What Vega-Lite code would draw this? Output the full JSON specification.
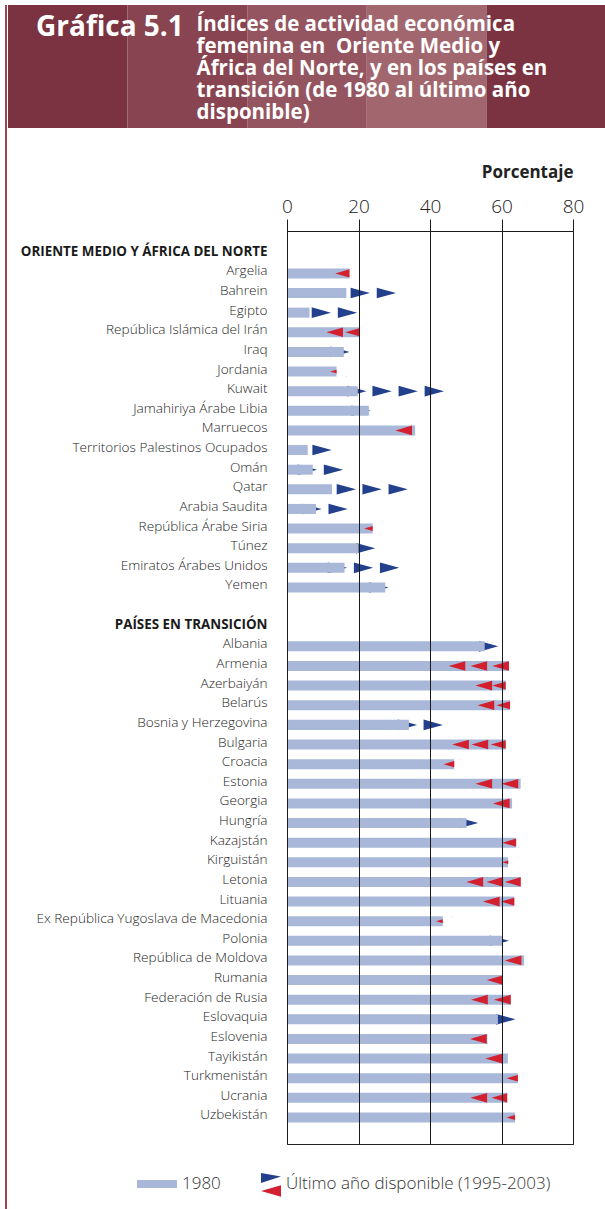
{
  "$schema": "https://vega.github.io/schema/vega-lite/v6.json",
  "padding": {"left": 5, "top": 5, "right": 0, "bottom": 0},
  "background": "white",
  "config": {"font": "Open Sans", "view": {"stroke": null}},
  "datasets": {
    "countries": [
      {"c": "Argelia", "v1980": 17.5, "latest": 13.5, "dir": "down"},
      {"c": "Bahrein", "v1980": 16.6, "latest": 30.5, "dir": "up"},
      {"c": "Egipto", "v1980": 6.3, "latest": 19.6, "dir": "up"},
      {"c": "República Islámica del Irán", "v1980": 20.3, "latest": 11.0, "dir": "down"},
      {"c": "Iraq", "v1980": 15.9, "latest": 17.5, "dir": "up"},
      {"c": "Jordania", "v1980": 13.9, "latest": 12.1, "dir": "down"},
      {"c": "Kuwait", "v1980": 19.8, "latest": 43.9, "dir": "up"},
      {"c": "Jamahiriya Árabe Libia", "v1980": 22.9, "latest": 23.4, "dir": "up"},
      {"c": "Marruecos", "v1980": 35.9, "latest": 30.3, "dir": "down"},
      {"c": "Territorios Palestinos Ocupados", "v1980": 5.8, "latest": 12.5, "dir": "up"},
      {"c": "Omán", "v1980": 7.2, "latest": 15.7, "dir": "up"},
      {"c": "Qatar", "v1980": 12.6, "latest": 33.8, "dir": "up"},
      {"c": "Arabia Saudita", "v1980": 8.1, "latest": 17.0, "dir": "up"},
      {"c": "República Árabe Siria", "v1980": 24.0, "latest": 21.6, "dir": "down"},
      {"c": "Túnez", "v1980": 20.0, "latest": 24.7, "dir": "up"},
      {"c": "Emiratos Árabes Unidos", "v1980": 16.1, "latest": 31.4, "dir": "up"},
      {"c": "Yemen", "v1980": 27.5, "latest": 28.4, "dir": "up"},
      {"c": "Albania", "v1980": 55.3, "latest": 59.1, "dir": "up"},
      {"c": "Armenia", "v1980": 62.1, "latest": 45.2, "dir": "down"},
      {"c": "Azerbaiyán", "v1980": 61.2, "latest": 52.7, "dir": "down"},
      {"c": "Belarús", "v1980": 62.4, "latest": 53.3, "dir": "down"},
      {"c": "Bosnia y Herzegovina", "v1980": 34.1, "latest": 43.6, "dir": "up"},
      {"c": "Bulgaria", "v1980": 61.2, "latest": 46.2, "dir": "down"},
      {"c": "Croacia", "v1980": 46.8, "latest": 43.8, "dir": "down"},
      {"c": "Estonia", "v1980": 65.4, "latest": 52.7, "dir": "down"},
      {"c": "Georgia", "v1980": 63.0, "latest": 57.6, "dir": "down"},
      {"c": "Hungría", "v1980": 50.2, "latest": 53.5, "dir": "up"},
      {"c": "Kazajstán", "v1980": 64.1, "latest": 60.2, "dir": "down"},
      {"c": "Kirguistán", "v1980": 61.9, "latest": 60.2, "dir": "down"},
      {"c": "Letonia", "v1980": 65.4, "latest": 50.2, "dir": "down"},
      {"c": "Lituania", "v1980": 63.6, "latest": 54.8, "dir": "down"},
      {"c": "Ex República Yugoslava de Macedonia", "v1980": 43.6, "latest": 41.7, "dir": "down"},
      {"c": "Polonia", "v1980": 60.3, "latest": 62.1, "dir": "up"},
      {"c": "República de Moldova", "v1980": 66.4, "latest": 60.9, "dir": "down"},
      {"c": "Rumania", "v1980": 60.4, "latest": 55.9, "dir": "down"},
      {"c": "Federación de Rusia", "v1980": 62.7, "latest": 51.5, "dir": "down"},
      {"c": "Eslovaquia", "v1980": 59.0, "latest": 63.9, "dir": "up"},
      {"c": "Eslovenia", "v1980": 56.1, "latest": 51.2, "dir": "down"},
      {"c": "Tayikistán", "v1980": 61.8, "latest": 55.5, "dir": "down"},
      {"c": "Turkmenistán", "v1980": 64.6, "latest": 61.4, "dir": "down"},
      {"c": "Ucrania", "v1980": 61.6, "latest": 51.3, "dir": "down"},
      {"c": "Uzbekistán", "v1980": 63.8, "latest": 61.4, "dir": "down"}
    ],
    "tri": [
      {"c": "Argelia", "tip": 13.5, "dir": "down"},
      {"c": "Bahrein", "tip": 23.2, "dir": "up"},
      {"c": "Bahrein", "tip": 30.5, "dir": "up"},
      {"c": "Egipto", "tip": 12.3, "dir": "up"},
      {"c": "Egipto", "tip": 19.6, "dir": "up"},
      {"c": "República Islámica del Irán", "tip": 11.0, "dir": "down"},
      {"c": "República Islámica del Irán", "tip": 16.3, "dir": "down"},
      {"c": "Iraq", "tip": 17.5, "dir": "up"},
      {"c": "Jordania", "tip": 12.1, "dir": "down"},
      {"c": "Kuwait", "tip": 22.2, "dir": "up"},
      {"c": "Kuwait", "tip": 29.3, "dir": "up"},
      {"c": "Kuwait", "tip": 36.6, "dir": "up"},
      {"c": "Kuwait", "tip": 43.9, "dir": "up"},
      {"c": "Jamahiriya Árabe Libia", "tip": 23.4, "dir": "up"},
      {"c": "Marruecos", "tip": 30.3, "dir": "down"},
      {"c": "Territorios Palestinos Ocupados", "tip": 12.5, "dir": "up"},
      {"c": "Omán", "tip": 8.4, "dir": "up"},
      {"c": "Omán", "tip": 15.7, "dir": "up"},
      {"c": "Qatar", "tip": 19.3, "dir": "up"},
      {"c": "Qatar", "tip": 26.5, "dir": "up"},
      {"c": "Qatar", "tip": 33.8, "dir": "up"},
      {"c": "Arabia Saudita", "tip": 9.7, "dir": "up"},
      {"c": "Arabia Saudita", "tip": 17.0, "dir": "up"},
      {"c": "República Árabe Siria", "tip": 21.6, "dir": "down"},
      {"c": "Túnez", "tip": 24.7, "dir": "up"},
      {"c": "Emiratos Árabes Unidos", "tip": 16.8, "dir": "up"},
      {"c": "Emiratos Árabes Unidos", "tip": 24.1, "dir": "up"},
      {"c": "Emiratos Árabes Unidos", "tip": 31.4, "dir": "up"},
      {"c": "Yemen", "tip": 28.4, "dir": "up"},
      {"c": "Albania", "tip": 59.1, "dir": "up"},
      {"c": "Armenia", "tip": 45.2, "dir": "down"},
      {"c": "Armenia", "tip": 51.3, "dir": "down"},
      {"c": "Armenia", "tip": 57.4, "dir": "down"},
      {"c": "Azerbaiyán", "tip": 52.7, "dir": "down"},
      {"c": "Azerbaiyán", "tip": 57.4, "dir": "down"},
      {"c": "Belarús", "tip": 53.3, "dir": "down"},
      {"c": "Belarús", "tip": 58.6, "dir": "down"},
      {"c": "Bosnia y Herzegovina", "tip": 36.4, "dir": "up"},
      {"c": "Bosnia y Herzegovina", "tip": 43.6, "dir": "up"},
      {"c": "Bulgaria", "tip": 46.2, "dir": "down"},
      {"c": "Bulgaria", "tip": 51.6, "dir": "down"},
      {"c": "Bulgaria", "tip": 57.0, "dir": "down"},
      {"c": "Croacia", "tip": 43.8, "dir": "down"},
      {"c": "Estonia", "tip": 52.7, "dir": "down"},
      {"c": "Estonia", "tip": 60.0, "dir": "down"},
      {"c": "Georgia", "tip": 57.6, "dir": "down"},
      {"c": "Hungría", "tip": 53.5, "dir": "up"},
      {"c": "Kazajstán", "tip": 60.2, "dir": "down"},
      {"c": "Kirguistán", "tip": 60.2, "dir": "down"},
      {"c": "Letonia", "tip": 50.2, "dir": "down"},
      {"c": "Letonia", "tip": 55.8, "dir": "down"},
      {"c": "Letonia", "tip": 60.9, "dir": "down"},
      {"c": "Lituania", "tip": 54.8, "dir": "down"},
      {"c": "Lituania", "tip": 59.8, "dir": "down"},
      {"c": "Ex República Yugoslava de Macedonia", "tip": 41.7, "dir": "down"},
      {"c": "Polonia", "tip": 62.1, "dir": "up"},
      {"c": "República de Moldova", "tip": 60.9, "dir": "down"},
      {"c": "Rumania", "tip": 55.9, "dir": "down"},
      {"c": "Federación de Rusia", "tip": 51.5, "dir": "down"},
      {"c": "Federación de Rusia", "tip": 57.9, "dir": "down"},
      {"c": "Eslovaquia", "tip": 63.9, "dir": "up"},
      {"c": "Eslovenia", "tip": 51.2, "dir": "down"},
      {"c": "Tayikistán", "tip": 55.5, "dir": "down"},
      {"c": "Turkmenistán", "tip": 61.4, "dir": "down"},
      {"c": "Ucrania", "tip": 51.3, "dir": "down"},
      {"c": "Ucrania", "tip": 57.2, "dir": "down"},
      {"c": "Uzbekistán", "tip": 61.4, "dir": "down"}
    ]
  },
  "spacing": 0,
  "resolve": {"scale": {"color": "independent", "fill": "independent", "shape": "independent"}, "legend": {"color": "independent", "fill": "independent", "shape": "independent"}},
  "hconcat": [
    {
      "width": 2,
      "height": 1204,
      "data": {"values": [{"k": 1}]},
      "mark": {"type": "rect", "color": "#9c4352"},
      "encoding": {},
      "view": {"fill": "#9c4352", "stroke": null}
    },
    {
      "title": {
        "text": ["Índices de actividad económica", "femenina en\u00a0 Oriente Medio y", "África del Norte, y en los países en", "transición (de 1980 al último año", "disponible)"],
        "anchor": "start",
        "orient": "top",
        "offset": -118,
        "dx": 189,
        "color": "white",
        "font": "Open Sans",
        "fontSize": 20.5,
        "fontWeight": "bold",
        "lineHeight": 22
      },
      "columns": 1,
      "spacing": 34,
      "align": "none",
      "resolve": {"scale": {"color": "independent", "fill": "independent", "shape": "independent"}, "legend": {"color": "independent", "fill": "independent", "shape": "independent"}},
      "concat": [
        {
          "width": 319,
          "height": 123,
          "title": {
            "text": "Gráfica 5.1",
            "anchor": "start",
            "frame": "bounds",
            "orient": "top",
            "offset": -37,
            "dx": 28,
            "color": "white",
            "font": "Open Sans",
            "fontSize": 28,
            "fontWeight": "bold"
          },
          "data": {"values": [{"s": "a"}, {"s": "b"}, {"s": "c"}, {"s": "d"}, {"s": "e"}]},
          "mark": {"type": "rect"},
          "encoding": {
            "x": {"field": "s", "type": "nominal", "axis": null, "scale": {"paddingInner": 0, "paddingOuter": 0, "range": [-279, 319]}},
            "y": {"datum": 0, "type": "quantitative", "axis": null, "scale": {"domain": [0, 1], "nice": false}},
            "y2": {"datum": 1},
            "fill": {"field": "s", "type": "nominal", "legend": null, "scale": {"range": ["#7b3341", "#884450", "#955560", "#a2676e", "#7b3341"]}}
          },
          "view": {"stroke": null}
        },
        {
          "width": 286,
          "height": 913,
          "view": {"stroke": "#222", "strokeWidth": 1},
          "encoding": {
            "y": {
              "field": "c",
              "type": "nominal",
              "sort": null,
              "title": "\u00a0",
              "scale": {
                "domain": ["ORIENTE MEDIO Y ÁFRICA DEL NORTE", "Argelia", "Bahrein", "Egipto", "República Islámica del Irán", "Iraq", "Jordania", "Kuwait", "Jamahiriya Árabe Libia", "Marruecos", "Territorios Palestinos Ocupados", "Omán", "Qatar", "Arabia Saudita", "República Árabe Siria", "Túnez", "Emiratos Árabes Unidos", "Yemen", " ", "PAÍSES EN TRANSICIÓN", "Albania", "Armenia", "Azerbaiyán", "Belarús", "Bosnia y Herzegovina", "Bulgaria", "Croacia", "Estonia", "Georgia", "Hungría", "Kazajstán", "Kirguistán", "Letonia", "Lituania", "Ex República Yugoslava de Macedonia", "Polonia", "República de Moldova", "Rumania", "Federación de Rusia", "Eslovaquia", "Eslovenia", "Tayikistán", "Turkmenistán", "Ucrania", "Uzbekistán"],
                "paddingInner": 0.49,
                "paddingOuter": 1.035,
                "align": 0.452
              },
              "axis": {
                "domain": false,
                "ticks": false,
                "grid": false,
                "labelPadding": 20,
                "labelLimit": 400,
                "labelOffset": -2,
                "labelFont": "Open Sans",
                "labelColor": {"condition": {"test": "datum.value === 'ORIENTE MEDIO Y ÁFRICA DEL NORTE' || datum.value === 'PAÍSES EN TRANSICIÓN'", "value": "#1a1a1a"}, "value": "#262626"},
                "labelFontSize": {"condition": {"test": "datum.value === 'ORIENTE MEDIO Y ÁFRICA DEL NORTE' || datum.value === 'PAÍSES EN TRANSICIÓN'", "value": 13.4}, "value": 13.6},
                "labelFontWeight": {"condition": {"test": "datum.value === 'ORIENTE MEDIO Y ÁFRICA DEL NORTE' || datum.value === 'PAÍSES EN TRANSICIÓN'", "value": "bold"}, "value": 300},
                "titleX": -279,
                "titleY": 0,
                "titleAngle": 0,
                "titleAlign": "left",
                "titleBaseline": "top",
                "titleFontSize": 8
              }
            }
          },
          "layer": [
            {
              "data": {"name": "tri"},
              "transform": [{"filter": "datum.dir === 'up'"}],
              "mark": {"type": "point", "shape": "M0,0L-2,-0.55L-2,0.55Z", "filled": true, "size": 372, "color": "#22408c", "opacity": 1, "strokeWidth": 0},
              "encoding": {
                "x": {"field": "tip", "type": "quantitative", "title": "Porcentaje", "scale": {"domain": [0, 80], "nice": false},
                  "axis": {"orient": "top", "values": [0, 20, 40, 60, 80], "grid": true, "zindex": 1, "domainColor": "#1a1a1a", "tickColor": "#1a1a1a", "gridColor": "#1a1a1a", "tickSize": 12, "labelFontSize": 19, "labelFontWeight": 300, "labelColor": "#222", "labelPadding": 3, "labelFlush": false, "titleFontSize": 17, "titleFontWeight": "bold", "titleColor": "#222", "titleAnchor": "end", "titlePadding": 16}}
              }
            },
            {
              "data": {"name": "countries"},
              "mark": {"type": "bar"},
              "encoding": {
                "x": {"field": "v1980", "type": "quantitative", "title": "Porcentaje", "scale": {"domain": [0, 80], "nice": false},
                  "axis": {"orient": "top", "values": [0, 20, 40, 60, 80], "grid": true, "zindex": 1, "domainColor": "#1a1a1a", "tickColor": "#1a1a1a", "gridColor": "#1a1a1a", "tickSize": 12, "labelFontSize": 19, "labelFontWeight": 300, "labelColor": "#222", "labelPadding": 3, "labelFlush": false, "titleFontSize": 17, "titleFontWeight": "bold", "titleColor": "#222", "titleAnchor": "end", "titlePadding": 16}},
                "color": {
                  "datum": "1980",
                  "type": "nominal",
                  "scale": {"domain": ["1980", "Último año disponible (1995-2003)"], "range": ["#a9b8d9", "#22408c"]},
                  "legend": {
                    "title": null,
                    "orient": "none",
                    "legendX": -150,
                    "legendY": 933,
                    "direction": "horizontal",
                    "padding": 0,
                    "symbolSize": 1600,
                    "symbolStrokeWidth": 0,
                    "labelFont": "Open Sans",
                    "labelFontSize": 17,
                    "labelFontWeight": 300,
                    "labelColor": "#333",
                    "labelOffset": 5,
                    "labelLimit": 400,
                    "columnPadding": 20,
                    "encode": {
                      "symbols": {
                        "update": {
                          "shape": {"signal": "datum.value === '1980' ? 'M-1,-0.2H1V0.2H-1Z' : 'M0,-0.55L1,-0.38L0,-0.05Z'"},
                          "fill": {"signal": "datum.value === '1980' ? '#a9b8d9' : '#22408c'"},
                          "opacity": {"value": 1},
                          "strokeWidth": {"value": 0}
                        }
                      }
                    }
                  }
                }
              }
            },
            {
              "data": {"name": "tri"},
              "transform": [{"filter": "datum.dir === 'down'"}],
              "mark": {"type": "point", "filled": true, "size": 279, "color": "#d2202f", "opacity": 1, "strokeWidth": 0},
              "encoding": {
                "x": {"field": "tip", "type": "quantitative", "title": "Porcentaje", "scale": {"domain": [0, 80], "nice": false},
                  "axis": {"orient": "top", "values": [0, 20, 40, 60, 80], "grid": true, "zindex": 1, "domainColor": "#1a1a1a", "tickColor": "#1a1a1a", "gridColor": "#1a1a1a", "tickSize": 12, "labelFontSize": 19, "labelFontWeight": 300, "labelColor": "#222", "labelPadding": 3, "labelFlush": false, "titleFontSize": 17, "titleFontWeight": "bold", "titleColor": "#222", "titleAnchor": "end", "titlePadding": 16}},
                "shape": {
                  "datum": "Último año disponible (1995-2003)",
                  "type": "nominal",
                  "scale": {"range": ["M0,0L2,-0.58L2,0.58Z"]},
                  "legend": {
                    "title": null,
                    "orient": "none",
                    "legendX": -36,
                    "legendY": 950,
                    "direction": "horizontal",
                    "padding": 0,
                    "symbolSize": 400,
                    "symbolStrokeWidth": 0,
                    "symbolFillColor": "#d2202f",
                    "labelExpr": "''",
                    "labelFontSize": 1,
                    "labelOffset": 0,
                    "encode": {
                      "symbols": {
                        "update": {
                          "fill": {"value": "#d2202f"},
                          "opacity": {"value": 1},
                          "strokeWidth": {"value": 0}
                        }
                      }
                    }
                  }
                }
              }
            },
            {
              "data": {"name": "countries"},
              "transform": [{"filter": "datum.dir === 'down'"}],
              "mark": {"type": "bar", "color": "white"},
              "encoding": {
                "x": {"field": "v1980", "type": "quantitative", "title": "Porcentaje", "scale": {"domain": [0, 80], "nice": false},
                  "axis": {"orient": "top", "values": [0, 20, 40, 60, 80], "grid": true, "zindex": 1, "domainColor": "#1a1a1a", "tickColor": "#1a1a1a", "gridColor": "#1a1a1a", "tickSize": 12, "labelFontSize": 19, "labelFontWeight": 300, "labelColor": "#222", "labelPadding": 3, "labelFlush": false, "titleFontSize": 17, "titleFontWeight": "bold", "titleColor": "#222", "titleAnchor": "end", "titlePadding": 16}},
                "x2": {"datum": 72}
              }
            }
          ]
        }
      ]
    }
  ]
}
